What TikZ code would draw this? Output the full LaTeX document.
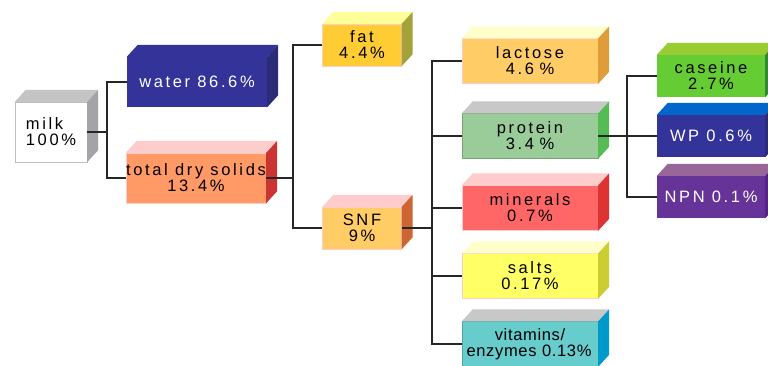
\documentclass[tikz,border=0pt]{standalone}
\usepackage{fontspec}
\setmainfont{Liberation Sans}[LetterSpace=16]
\usetikzlibrary{positioning}

\definecolor{milkTop}{HTML}{C4C4C4}
\definecolor{milkSide}{HTML}{A4A4A8}
\definecolor{waterFront}{HTML}{333399}
\definecolor{waterSide}{HTML}{2B2B77}
\definecolor{tdsFront}{HTML}{FF9966}
\definecolor{tdsTop}{HTML}{FFCCCC}
\definecolor{tdsSide}{HTML}{CC3333}
\definecolor{fatFront}{HTML}{FFCC33}
\definecolor{fatTop}{HTML}{FFFF99}
\definecolor{fatSide}{HTML}{A3A33A}
\definecolor{lacFront}{HTML}{FFCC66}
\definecolor{lacTop}{HTML}{FFFFCC}
\definecolor{lacSide}{HTML}{E09B3A}
\definecolor{protFront}{HTML}{99CC99}
\definecolor{protTop}{HTML}{C8C8C8}
\definecolor{protSide}{HTML}{55BB55}
\definecolor{snfTop}{HTML}{FFCCCC}
\definecolor{snfSide}{HTML}{CC6633}
\definecolor{minFront}{HTML}{FF6666}
\definecolor{minSide}{HTML}{DD3333}
\definecolor{saltFront}{HTML}{FFFF66}
\definecolor{saltSide}{HTML}{CCCC33}
\definecolor{vitFront}{HTML}{66CCCC}
\definecolor{vitSide}{HTML}{0099CC}
\definecolor{casFront}{HTML}{66CC33}
\definecolor{casTop}{HTML}{99CC33}
\definecolor{casSide}{HTML}{338833}
\definecolor{wpTop}{HTML}{0066CC}
\definecolor{npnFront}{HTML}{663399}
\definecolor{npnTop}{HTML}{996699}
\definecolor{npnSide}{HTML}{552288}

\tikzset{
cube/.style={
  rectangle,
  inner sep=0pt,
  align=center,
  font=\fontsize{16.5}{16}\selectfont
  },
col0/.style={cube, minimum width=72pt, minimum height=60pt},
col1/.style={cube, minimum width=140pt, minimum height=50pt},
col2/.style={cube, minimum width=79pt, minimum height=42pt},
col3/.style={cube, text width=136pt, minimum height=45pt},
col4/.style={cube, minimum width=108pt, minimum height=42pt},
line/.style={line width=2.4pt, black!85}
}

% top and right faces of a box
\newcommand{\faces}[3]{%
  \fill[#2] (#1.north west) -- ++(11,-12) -- ([shift={(11,-12)}]#1.north east) -- (#1.north east) -- cycle;
  \fill[#3] (#1.north east) -- ++(11,-12) -- ([shift={(11,-12)}]#1.south east) -- (#1.south east) -- cycle;
}

\begin{document}
\begin{tikzpicture}[x=1pt, y=-1pt]
\clip (0,0) rectangle (768,365);
\fill[white] (0,0) rectangle (768,365);

\node[col0, fill=white, draw=gray!50, align=left]	(milk)		at (51,132)		{milk\\100\%};
\node[col1, fill=waterFront, text=white]		(water)		at (197,82)		{water 86.6\%};
\node[col1, fill=tdsFront, draw=tdsTop]			(tds)		at (196,178)	{total dry solids\\13.4\%};
\node[col2, fill=fatFront, draw=tdsTop]			(fat)		at (362,45)		{fat\\4.4\%};
\node[col2, fill=lacFront, draw=tdsTop]			(snf)		at (362,228)	{SNF\\9\%};
\node[col3, fill=lacFront, draw=tdsTop]			(lactose)	at (530,61)		{lactose\\4.6 \%};
\node[col3, fill=protFront, draw=protFront!80!black]	(protein)	at (530,136)	{protein\\3.4 \%};
\node[col3, fill=minFront, draw=tdsTop]			(minerals)	at (530,208)	{minerals\\0.7\%};
\node[col3, fill=saltFront, draw=tdsTop]		(salts)		at (530,276)	{salts\\0.17\%};
\node[col3, fill=vitFront, draw=vitFront!80!black, font=\fontsize{16.5}{16}\selectfont\addfontfeature{LetterSpace=4}]
												(vitamins)	at (530,344)	{vitamins/\\\hspace*{-2pt}enzymes~0.13\%};
\node[col4, fill=casFront]						(caseine)	at (711,76)		{caseine\\2.7\%};
\node[col4, fill=waterFront, text=white]		(wp)		at (711,136)	{WP 0.6\%};
\node[col4, fill=npnFront, text=white]			(npn)		at (711,197)	{NPN 0.1\%};

\faces{milk}{milkTop}{milkSide}
\faces{water}{waterFront}{waterSide}
\faces{tds}{tdsTop}{tdsSide}
\faces{fat}{fatTop}{fatSide}
\faces{snf}{snfTop}{snfSide}
\faces{lactose}{lacTop}{lacSide}
\faces{protein}{protTop}{protSide}
\faces{minerals}{tdsTop}{minSide}
\faces{salts}{lacTop}{saltSide}
\faces{vitamins}{protTop}{vitSide}
\faces{caseine}{casTop}{casSide}
\faces{wp}{wpTop}{waterSide}
\faces{npn}{npnTop}{npnSide}

\coordinate (j1) at (107,132);
\coordinate (j2) at (293,178);
\coordinate (j3) at (432,228);
\coordinate (j4) at (627,136);

\draw[line] (milk.east) -- (j1) |- (water.west);
\draw[line] (j1) |- (tds.west);
\draw[line] (tds.east) -- (j2) |- (fat.west);
\draw[line] (j2) |- (snf.west);
\draw[line] (snf.east) -- (j3) |- (lactose.west);
\draw[line] (j3) |- (protein.west);
\draw[line] (j3) |- (minerals.west);
\draw[line] (j3) |- (salts.west);
\draw[line] (j3) |- (vitamins.west);
\draw[line] (protein.east) -- (j4) |- (caseine.west);
\draw[line] (j4) |- (wp.west);
\draw[line] (j4) |- (npn.west);
\end{tikzpicture}
\end{document}
